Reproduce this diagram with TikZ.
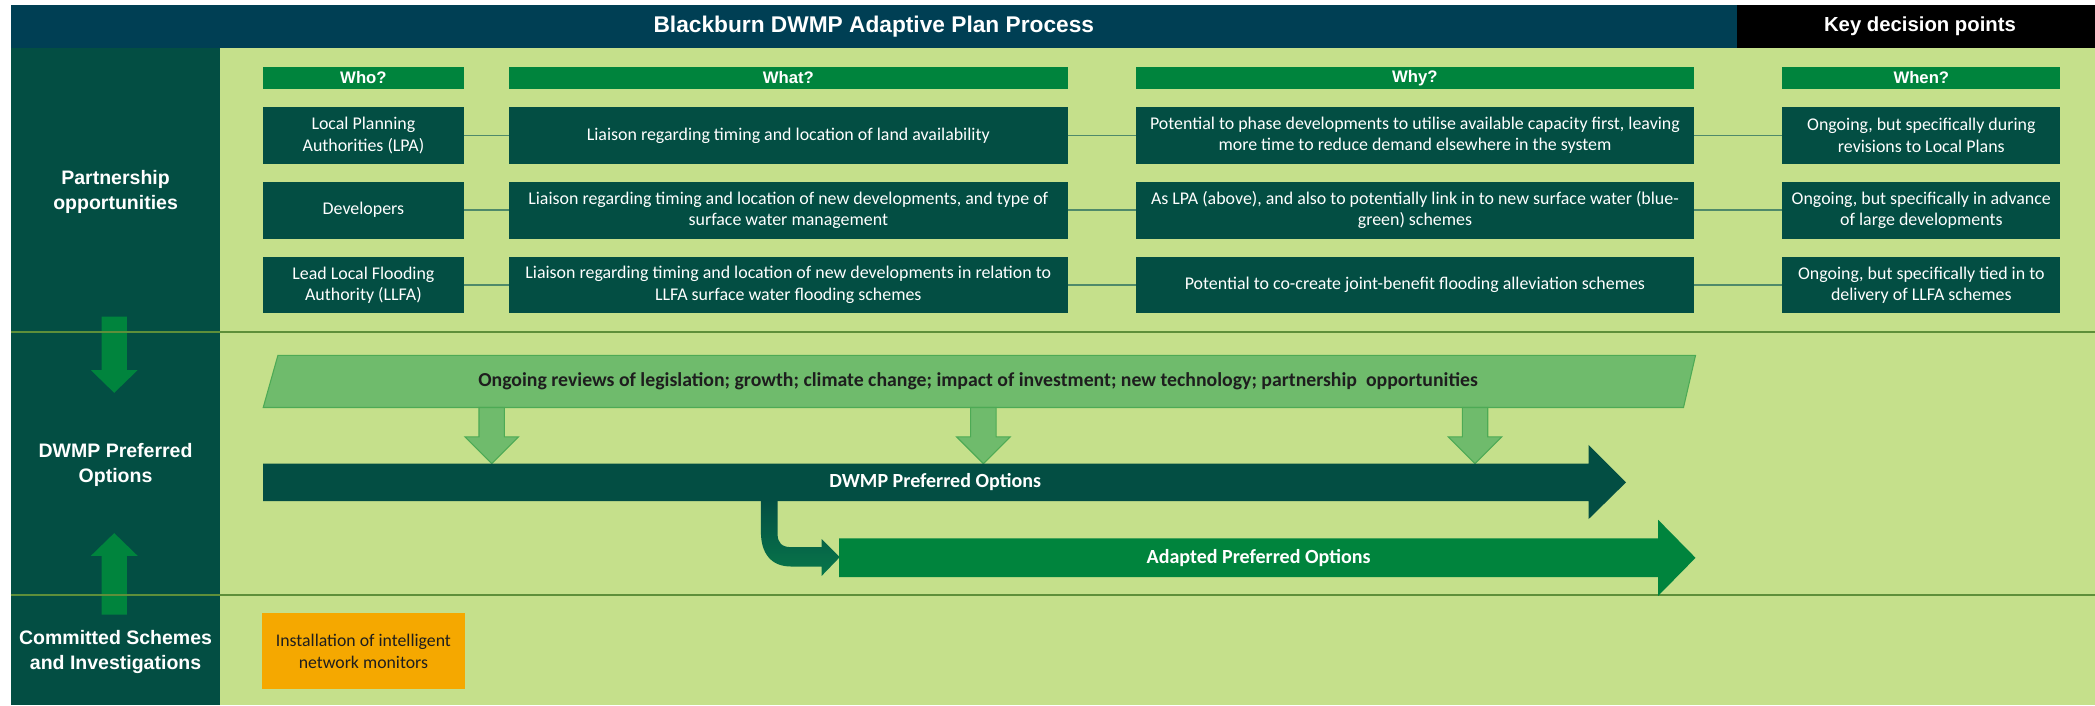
\documentclass[tikz,border=0pt]{standalone}
\usepackage{fontspec}
\setmainfont{Carlito}
\newfontfamily\hfont{Liberation Sans}
\usetikzlibrary{arrows.meta}
\definecolor{titlebg}{HTML}{003F54}
\definecolor{darkgreen}{HTML}{034E43}
\definecolor{lightbg}{HTML}{C5E08B}
\definecolor{hdrgreen}{HTML}{00843D}
\definecolor{sepline}{HTML}{5E8F3A}
\definecolor{connline}{HTML}{4F8A6A}
\definecolor{parafill}{HTML}{6FBB6C}
\definecolor{paraborder}{HTML}{4DAA55}
\definecolor{myorange}{HTML}{F5A800}
\definecolor{midgreen}{HTML}{08764A}
\definecolor{darktext}{HTML}{1E1E1E}
\tikzset{
  hdr/.style={fill=hdrgreen, text=white, font=\hfont\bfseries\fontsize{12.5}{14}\selectfont,
    minimum height=16.6pt, inner sep=0pt, outer sep=0pt},
  cellbox/.style={fill=darkgreen, text=white, font=\fontsize{13.4}{16}\selectfont,
    minimum height=42.5pt, inner sep=0pt, outer sep=0pt, align=center},
  sidetext/.style={text=white, font=\hfont\bfseries\fontsize{14.6}{19}\selectfont, align=center, inner sep=0pt},
  titletext/.style={text=white, font=\hfont\bfseries\fontsize{17}{19}\selectfont, inner sep=0pt},
  keytext/.style={text=white, font=\hfont\bfseries\fontsize{15.2}{19}\selectfont, inner sep=0pt},
  conn/.style={draw=connline, line width=1.2pt},
  sepl/.style={draw=sepline, line width=1.2pt},
  bigarrow/.style={fill=hdrgreen},
  smallarrow/.style={fill=parafill, draw=paraborder, line width=0.8pt},
  bartext/.style={text=white, font=\bfseries\fontsize{15}{17}\selectfont, inner sep=0pt},
}
\begin{document}
\begin{tikzpicture}[x=1pt,y=-1pt]
\useasboundingbox (0,0) rectangle (1568,528);
\fill[white] (0,0) rectangle (1568,528);
% backgrounds
\fill[titlebg] (8,4) rectangle (1300,36);
\fill[black] (1300,4) rectangle (1568,36);
\fill[darkgreen] (8,36) rectangle (165,528);
\fill[lightbg] (165,36) rectangle (1568,528);
\node[titletext] (title) at (654,20) {Blackburn DWMP Adaptive Plan Process};
\node[keytext] (keydp) at (1437,20) {Key decision points};

% left column arrows
\fill[bigarrow] (76,237) -- (95,237) -- (95,277) -- (103,277) -- (85.5,294) -- (68,277) -- (76,277) -- cycle;
\fill[bigarrow] (76,460) -- (95,460) -- (95,416) -- (103,416) -- (85.5,399) -- (68,416) -- (76,416) -- cycle;

% separators
\draw[sepl] (8,248.5) -- (1568,248.5);
\draw[sepl] (8,445.5) -- (1568,445.5);

% side labels
\node[sidetext] (side1) at (86.5,143.5) {Partnership\\opportunities};
\node[sidetext] (side2) at (86.5,348) {DWMP Preferred\\Options};
\node[sidetext] (side3) at (86.5,488) {Committed Schemes\\and Investigations};

% headers
\node[hdr, minimum width=150pt] (hwho) at (272,58.3) {Who?};
\node[hdr, minimum width=418pt] (hwhat) at (590,58.3) {What?};
\node[hdr, minimum width=418pt] (hwhy) at (1059,58.3) {Why?};
\node[hdr, minimum width=208pt] (hwhen) at (1438,58.3) {When?};

% row 1
\node[cellbox, minimum width=150pt] (who1) at (272,101.3) {Local Planning\\Authorities (LPA)};
\node[cellbox, minimum width=418pt] (what1) at (590,101.3) {Liaison regarding timing and location of land availability};
\node[cellbox, minimum width=418pt] (why1) at (1059,101.3) {Potential to phase developments to utilise available capacity first, leaving\\more time to reduce demand elsewhere in the system};
\node[cellbox, minimum width=208pt] (when1) at (1438,101.3) {Ongoing, but specifically during\\revisions to Local Plans};
% row 2
\node[cellbox, minimum width=150pt] (who2) at (272,157.3) {Developers};
\node[cellbox, minimum width=418pt] (what2) at (590,157.3) {Liaison regarding timing and location of new developments, and type of\\surface water management};
\node[cellbox, minimum width=418pt] (why2) at (1059,157.3) {As LPA (above), and also to potentially link in to new surface water (blue-\\green) schemes};
\node[cellbox, minimum width=208pt] (when2) at (1438,157.3) {Ongoing, but specifically in advance\\of large developments};
% row 3
\node[cellbox, minimum width=150pt] (who3) at (272,213.3) {Lead Local Flooding\\Authority (LLFA)};
\node[cellbox, minimum width=418pt] (what3) at (590,213.3) {Liaison regarding timing and location of new developments in relation to\\LLFA surface water flooding schemes};
\node[cellbox, minimum width=418pt] (why3) at (1059,213.3) {Potential to co-create joint-benefit flooding alleviation schemes};
\node[cellbox, minimum width=208pt] (when3) at (1438,213.3) {Ongoing, but specifically tied in to\\delivery of LLFA schemes};

\foreach \r in {1,2,3} {
  \draw[conn] (who\r) -- (what\r);
  \draw[conn] (what\r) -- (why\r);
  \draw[conn] (why\r) -- (when\r);
}

% parallelogram
\filldraw[fill=parafill, draw=paraborder, line width=0.8pt] (197,305) -- (208,266) -- (1269,266) -- (1260,305) -- cycle;
\node[text=darktext, font=\bfseries\fontsize{14.8}{17}\selectfont, inner sep=0pt] (reviews) at (732,285.5)
  {Ongoing reviews of legislation; growth; climate change; impact of investment; new technology; partnership\ \ opportunities};

% small down arrows
\foreach \cx in {368,736,1104} {
  \filldraw[smallarrow] (\cx-9.5,305) -- (\cx+9.5,305) -- (\cx+9.5,327) -- (\cx+20,327) -- (\cx,347) -- (\cx-20,327) -- (\cx-9.5,327) -- cycle;
}

% bent arrow
\shade[top color=darkgreen, bottom color=midgreen]
  (569.5,374) -- (569.5,398) .. controls (569.5,414) and (577,424) .. (592,424) -- (615,424) -- (615,431) -- (628.5,417) -- (615,403.5) -- (615,409.5) -- (592,409.5) .. controls (585,409.5) and (582,406) .. (582,400) -- (582,374) -- cycle;

% DWMP preferred options arrow
\fill[darkgreen] (197,347) -- (1189,347) -- (1189,333) -- (1217,361) -- (1189,388.5) -- (1189,375) -- (197,375) -- cycle;
\node[bartext] (dwmp) at (700,361) {DWMP Preferred Options};

% adapted arrow
\fill[hdrgreen] (628,403) -- (1241,403) -- (1241,389) -- (1269,417.5) -- (1241,446) -- (1241,432) -- (628,432) -- cycle;
\node[bartext] (adapted) at (942,417.5) {Adapted Preferred Options};

% orange box
\node[fill=myorange, text=darktext, font=\fontsize{13.3}{16}\selectfont, minimum width=152pt, minimum height=57pt, inner sep=0pt, align=center] (monitors) at (272,487.5) {Installation of intelligent\\network monitors};
\end{tikzpicture}
\end{document}
